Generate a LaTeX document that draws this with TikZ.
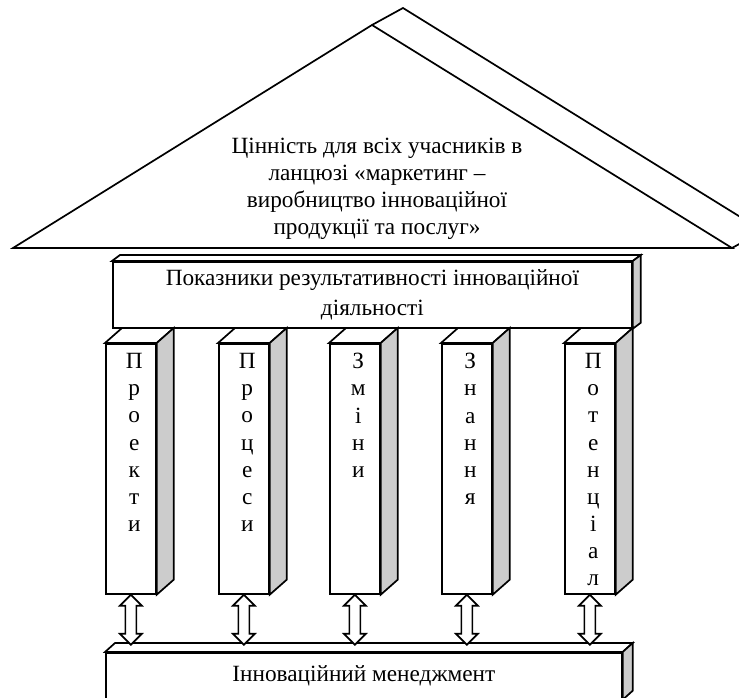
\documentclass[tikz,border=0pt]{standalone}
\usepackage{fontspec}
\setmainfont{Liberation Serif}
\usetikzlibrary{calc}

\tikzset{
  block/.style={draw, line width=1.1pt, fill=white, inner sep=0pt, align=center, anchor=north west},
  pillar/.style={block, minimum width=32.25pt, minimum height=161.25pt},
  face/.style={draw, line width=1.1pt, fill=white, line join=miter},
  side/.style={face, fill=gray!40},
  letters/.style={align=center, inner sep=0pt, anchor=north, yshift=-6.5pt, xshift=2.2pt},
  twoway/.style={draw, line width=1.1pt, fill=white, line join=miter},
}

\begin{document}
\begin{tikzpicture}[x=0.645pt, y=-0.645pt, font=\fontsize{15pt}{17.5pt}\selectfont]
        \useasboundingbox (0,0) rectangle (739,698);
        % roof
        \draw[face] (13,248) -- (372,25) -- (732,248) -- cycle;
        \draw[face, fill=none] (372,25) -- (403,8) -- (763,231) -- (732,248);
        \node[align=center] (value) at (377,189)
          {Цінність для всіх учасників в\\ланцюзі «маркетинг –\\виробництво інноваційної\\продукції та послуг»};

        % beam
        \node[block, minimum width=334.8pt, minimum height=42.6pt, text depth=3pt] (kpi) at (112,261)
          {Показники результативності інноваційної\\[2pt]діяльності};
        \draw[face] (kpi.north west) -- ++(8,-6) -- ($(kpi.north east)+(8,-6)$) -- (kpi.north east) -- cycle;
        \draw[side] (kpi.north east) -- ++(8,-6) -- ($(kpi.south east)+(8,-6)$) -- (kpi.south east) -- cycle;

        % pillars
        \node[pillar, label={[letters]north:П\\р\\о\\е\\к\\т\\и}] (p1) at (105,343) {};
        \node[pillar, label={[letters]north:П\\р\\о\\ц\\е\\с\\и}] (p2) at (218,343) {};
        \node[pillar, label={[letters]north:З\\м\\і\\н\\и}] (p3) at (329,343) {};
        \node[pillar, label={[letters]north:З\\н\\а\\н\\н\\я}] (p4) at (441,343) {};
        \node[pillar, label={[letters]north:П\\о\\т\\е\\н\\ц\\і\\а\\л}] (p5) at (564,343) {};
        \foreach \i in {1,...,5} {
          \draw[face] (p\i.north west) -- ++(17,-15) -- ($(p\i.north east)+(17,-15)$) -- (p\i.north east) -- cycle;
          \draw[side] (p\i.north east) -- ++(17,-15) -- ($(p\i.south east)+(17,-15)$) -- (p\i.south east) -- cycle;
        }

        % base
        \node[block, minimum width=332.8pt, minimum height=29.7pt] (mgmt) at (105,652) {Інноваційний менеджмент};
        \draw[face] (mgmt.north west) -- ++(10,-9) -- ($(mgmt.north east)+(10,-9)$) -- (mgmt.north east) -- cycle;
        \draw[side] (mgmt.north east) -- ++(10,-9) -- ($(mgmt.south east)+(10,-9)$) -- (mgmt.south east) -- cycle;

        % links
        \foreach \i in {1,...,5}
          \draw[twoway] (p\i.south) -- ++(11,11) -- ++(-5.5,0) -- ++(0,28) -- ++(5.5,0)
            -- ++(-11,11) -- ++(-11,-11) -- ++(5.5,0) -- ++(0,-28) -- ++(-5.5,0) -- cycle;
\end{tikzpicture}
\end{document}
